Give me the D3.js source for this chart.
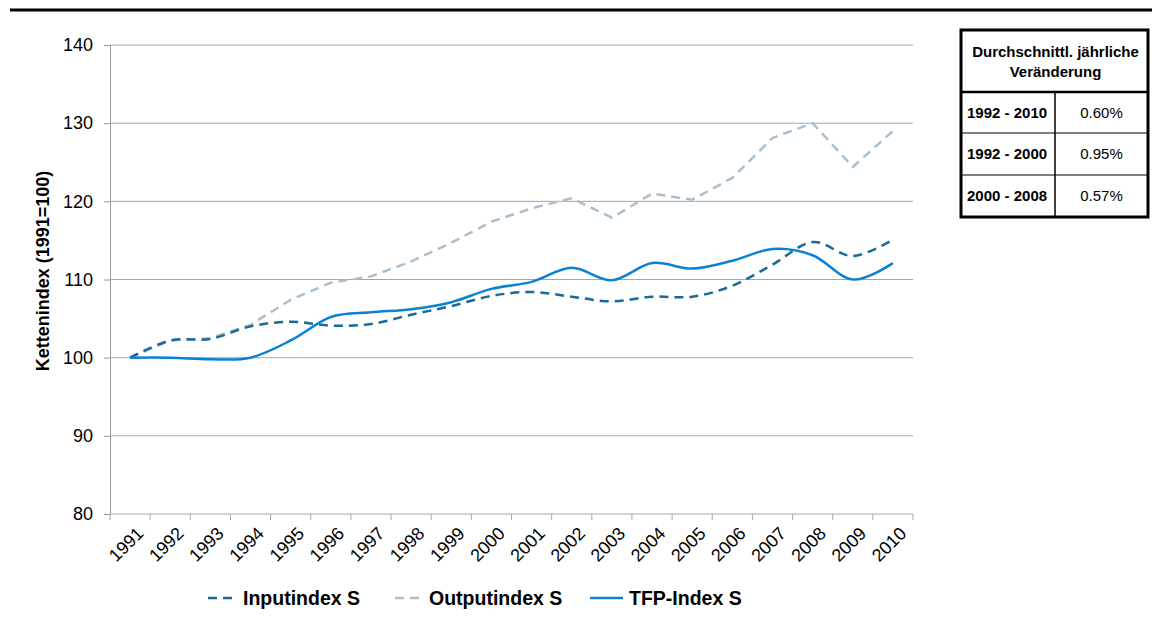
<!DOCTYPE html>
<html><head><meta charset="utf-8">
<script src="https://cdn.jsdelivr.net/npm/d3@7"></script>
<style>body{margin:0;background:#fff;} svg{display:block;font-family:"Liberation Sans",Arial,sans-serif;}</style>
</head><body>
<svg id="c" width="1152" height="625"></svg>
<script>
const years = ["1991","1992","1993","1994","1995","1996","1997","1998","1999","2000","2001","2002","2003","2004","2005","2006","2007","2008","2009","2010"];
const inputIndex = [100,102.2,102.4,104.0,104.6,104.1,104.3,105.5,106.6,107.9,108.4,107.8,107.2,107.8,107.8,109.2,111.9,114.8,113.0,115.1];
const outputIndex = [100,102.2,102.5,104.2,107.4,109.6,110.4,112.3,114.7,117.4,119.1,120.4,117.9,121.0,120.2,123.0,128.1,130.0,124.4,129.0];
const tfpIndex = [100,100.0,99.8,100.0,102.2,105.2,105.8,106.2,107.1,108.8,109.7,111.5,109.9,112.1,111.4,112.4,113.9,113.1,110.0,112.1];
const yTicks = [80,90,100,110,120,130,140];
const seriesNames = ["Inputindex S","Outputindex S","TFP-Index S"];
const tableHeader = ["Durchschnittl. jährliche","Veränderung"];
const tablePeriods = ["1992 - 2010","1992 - 2000","2000 - 2008"];
const tableValues = ["0.60%","0.95%","0.57%"];

const svg = d3.select("#c");
const L = 110, R = 913, T = 45, B = 514;
const x = d3.scaleBand().domain(years).range([L, R]);
const y = d3.scaleLinear().domain([80, 140]).range([B, T]);
const cx = d => x(d) + x.bandwidth() / 2;

// top rule
svg.append("line").attr("x1", 10).attr("x2", 1152).attr("y1", 10).attr("y2", 10)
  .attr("stroke", "#000").attr("stroke-width", 3);

// gridlines + y axis
const yAxis = d3.axisLeft(y).tickValues(yTicks).tickSize(6).tickPadding(11);
const ga = svg.append("g").attr("transform", `translate(${L},0)`).call(yAxis);
ga.select(".domain").attr("stroke", "#999");
ga.selectAll(".tick line").attr("stroke", "#999");
ga.selectAll(".tick text").attr("font-size", 18).attr("fill", "#000").attr("font-family", "Liberation Sans, Arial, sans-serif");
svg.append("g").selectAll("line").data(yTicks.filter(v => v > 80)).join("line")
  .attr("x1", L).attr("x2", R).attr("y1", d => y(d)).attr("y2", d => y(d))
  .attr("stroke", "#a6a6a6").attr("stroke-width", 1);

// x axis
const xTickPos = years.map(d => x(d)).concat([R]);
const gx = svg.append("g");
gx.append("line").attr("x1", L).attr("x2", R).attr("y1", B).attr("y2", B).attr("stroke", "#aaa");
gx.selectAll("line.t").data(xTickPos).join("line").attr("class", "t")
  .attr("x1", d => d).attr("x2", d => d).attr("y1", B).attr("y2", B + 6).attr("stroke", "#aaa");
gx.selectAll("text").data(years).join("text")
  .attr("transform", d => `translate(${cx(d) + 5},${B + 11}) rotate(-45)`)
  .attr("text-anchor", "end").attr("dy", "0.75em").attr("font-size", 18).attr("fill", "#000")
  .text(d => d);

// y title
svg.append("text").attr("transform", `translate(49,271) rotate(-90)`)
  .attr("text-anchor", "middle").attr("font-size", 18).attr("font-weight", "bold").text("Kettenindex (1991=100)");

// lines
const colors = ["#1b6a96", "#a9bfd0", "#0a82d3"];
const smooth = d3.line().x((d, i) => cx(years[i])).y(d => y(d)).curve(d3.curveCatmullRom.alpha(0));
const straight = d3.line().x((d, i) => cx(years[i])).y(d => y(d));
svg.append("path").attr("d", straight(outputIndex)).attr("fill", "none").attr("stroke", colors[1])
  .attr("stroke-width", 2.5).attr("stroke-dasharray", "9,6");
svg.append("path").attr("d", smooth(inputIndex)).attr("fill", "none").attr("stroke", colors[0])
  .attr("stroke-width", 2.5).attr("stroke-dasharray", "9,6");
svg.append("path").attr("d", smooth(tfpIndex)).attr("fill", "none").attr("stroke", colors[2])
  .attr("stroke-width", 2.5);

// legend
const legX = [208, 395, 590];
const legW = [29, 28, 33];
const dashes = ["9,6", "9,6", null];
const lg = svg.append("g");
seriesNames.forEach((n, i) => {
  lg.append("line").attr("x1", legX[i]).attr("x2", legX[i] + legW[i]).attr("y1", 598).attr("y2", 598)
    .attr("stroke", colors[i]).attr("stroke-width", 2.5).attr("stroke-dasharray", dashes[i]);
  lg.append("text").attr("x", legX[i] + legW[i] + 6).attr("y", 605).attr("font-size", 19.5)
    .attr("font-weight", "bold").text(n);
});

// table
const tb = svg.append("g");
const tL = 961, tR = 1148, tT = 30, tB = 217, hB = 92, rowY = [92, 133, 175, 217], colX = 1055;
tb.append("rect").attr("x", tL).attr("y", tT).attr("width", tR - tL).attr("height", tB - tT)
  .attr("fill", "#fff").attr("stroke", "#000").attr("stroke-width", 3);
tb.append("line").attr("x1", tL).attr("x2", tR).attr("y1", hB).attr("y2", hB).attr("stroke", "#000").attr("stroke-width", 2.5);
[133, 175].forEach(v => tb.append("line").attr("x1", tL).attr("x2", tR).attr("y1", v).attr("y2", v).attr("stroke", "#000").attr("stroke-width", 1));
tb.append("line").attr("x1", colX).attr("x2", colX).attr("y1", hB).attr("y2", tB).attr("stroke", "#000").attr("stroke-width", 1.5);
tableHeader.forEach((t, i) => tb.append("text").attr("x", (tL + tR) / 2 + 1).attr("y", 57 + i * 20)
  .attr("text-anchor", "middle").attr("font-size", 15).attr("font-weight", "bold").text(t));
tablePeriods.forEach((t, i) => {
  const my = (rowY[i] + rowY[i + 1]) / 2 + 5;
  tb.append("text").attr("x", 967).attr("y", my).attr("font-size", 15).attr("font-weight", "bold").text(t);
  tb.append("text").attr("x", (colX + tR) / 2).attr("y", my).attr("text-anchor", "middle").attr("font-size", 15).text(tableValues[i]);
});

// cut-off glyph at bottom right
svg.append("text").attr("x", 1081).attr("y", 656).attr("font-size", 40).attr("font-weight", "bold").text("ü");
</script>
</body></html>
